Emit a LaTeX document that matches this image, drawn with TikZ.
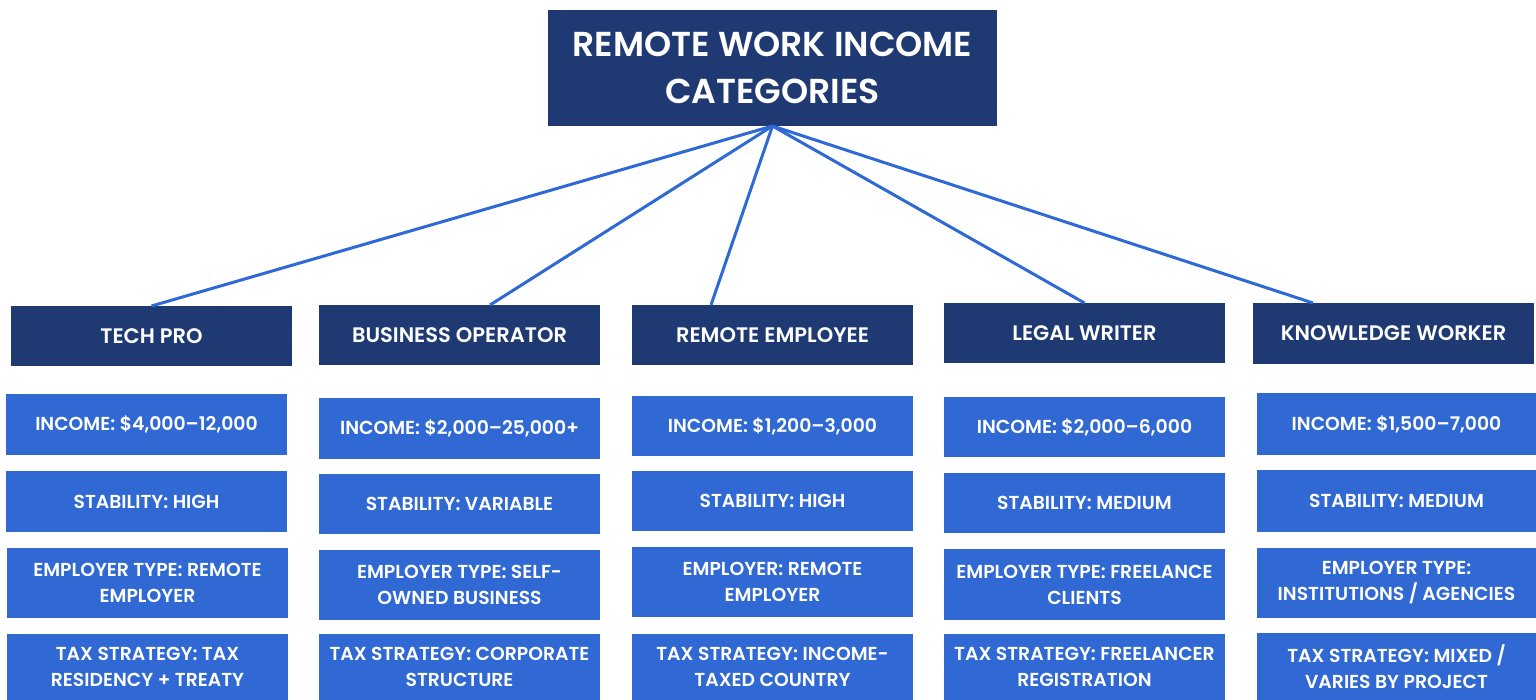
\documentclass[tikz,border=0pt]{standalone}
\usepackage{fontspec}
\setmainfont{Poppins}[BoldFont={Poppins SemiBold}]
\usetikzlibrary{positioning}
\definecolor{navy}{HTML}{1F3A73}
\definecolor{cellblue}{HTML}{3068D4}
\definecolor{linkblue}{HTML}{2F69D5}
\tikzset{
  base/.style={inner sep=0pt, outer sep=0pt, align=center, text=white, font=\bfseries},
  titlebox/.style={base, fill=navy, font=\fontsize{34.6}{47}\selectfont\bfseries},
  headbox/.style={base, fill=navy, font=\fontsize{21}{26}\selectfont\bfseries},
  cellbox/.style={base, fill=cellblue, font=\fontsize{18.8}{26}\selectfont\bfseries},
  link/.style={draw=linkblue, line width=3pt}
}
% box: name, x1, y1, x2, y2, style, text
\newcommand\cellnode[7]{%
  \node[#6, minimum width={(#4-#2)*1pt}, minimum height={(#5-#3)*1pt}]
    (#1) at ({(#2+#4)/2},{(#3+#5)/2}) {#7};}
\begin{document}
\begin{tikzpicture}[x=1pt,y=-1pt]
\useasboundingbox (0,0) rectangle (1536,700);

\cellnode{title}{548}{10}{997}{126}{titlebox}{REMOTE WORK INCOME\\CATEGORIES}

% column headers
\cellnode{h1}{11}{306}{292}{366}{headbox}{TECH PRO}
\cellnode{h2}{319}{305}{600}{365}{headbox}{BUSINESS OPERATOR}
\cellnode{h3}{632}{305}{913}{365}{headbox}{REMOTE EMPLOYEE}
\cellnode{h4}{944}{303}{1225}{363}{headbox}{LEGAL WRITER}
\cellnode{h5}{1253}{303}{1534}{364}{headbox}{KNOWLEDGE WORKER}

% column 1
\cellnode{a1}{6}{394}{287}{455}{cellbox}{INCOME: \$4,000–12,000}
\cellnode{a2}{6}{471}{287}{532}{cellbox}{STABILITY: HIGH}
\cellnode{a3}{7}{548}{288}{618}{cellbox}{EMPLOYER TYPE: REMOTE\\EMPLOYER}
\cellnode{a4}{7}{634}{288}{700}{cellbox}{TAX STRATEGY: TAX\\RESIDENCY + TREATY}

% column 2
\cellnode{b1}{319}{398}{600}{459}{cellbox}{INCOME: \$2,000–25,000+}
\cellnode{b2}{319}{474}{600}{534}{cellbox}{STABILITY: VARIABLE}
\cellnode{b3}{319}{550}{600}{620}{cellbox}{EMPLOYER TYPE: SELF-\\OWNED BUSINESS}
\cellnode{b4}{319}{634}{600}{700}{cellbox}{TAX STRATEGY: CORPORATE\\STRUCTURE}

% column 3
\cellnode{c1}{632}{396}{913}{456}{cellbox}{INCOME: \$1,200–3,000}
\cellnode{c2}{632}{471}{913}{531}{cellbox}{STABILITY: HIGH}
\cellnode{c3}{632}{547}{913}{617}{cellbox}{EMPLOYER: REMOTE\\EMPLOYER}
\cellnode{c4}{632}{634}{913}{700}{cellbox}{TAX STRATEGY: INCOME-\\TAXED COUNTRY}

% column 4
\cellnode{d1}{944}{397}{1225}{457}{cellbox}{INCOME: \$2,000–6,000}
\cellnode{d2}{944}{473}{1225}{533}{cellbox}{STABILITY: MEDIUM}
\cellnode{d3}{944}{549}{1225}{620}{cellbox}{EMPLOYER TYPE: FREELANCE\\CLIENTS}
\cellnode{d4}{944}{634}{1225}{700}{cellbox}{TAX STRATEGY: FREELANCER\\REGISTRATION}

% column 5
\cellnode{e1}{1257}{393}{1536}{455}{cellbox}{INCOME: \$1,500–7,000}
\cellnode{e2}{1257}{470}{1536}{532}{cellbox}{STABILITY: MEDIUM}
\cellnode{e3}{1257}{548}{1536}{618}{cellbox}{EMPLOYER TYPE:\\INSTITUTIONS / AGENCIES}
\cellnode{e4}{1257}{633}{1536}{700}{cellbox}{TAX STRATEGY: MIXED /\\VARIES BY PROJECT}

% connectors from the title to each header
\draw[link] (title.south) -- (h1.north);
\draw[link] (title.south) -- ([xshift=30.5pt]h2.north);
\draw[link] (title.south) -- ([xshift=-61.5pt]h3.north);
\draw[link] (title.south) -- (h4.north);
\draw[link] (title.south) -- ([xshift=-80.5pt]h5.north);
\end{tikzpicture}
\end{document}
